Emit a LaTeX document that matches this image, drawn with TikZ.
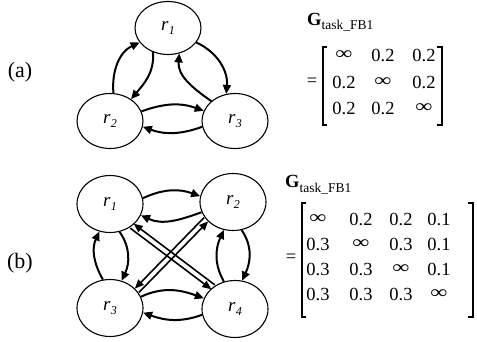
\documentclass[tikz,border=0pt]{standalone}
\usepackage{fontspec}
\setmainfont{Liberation Serif}
\usetikzlibrary{shapes.geometric,arrows.meta,calc}
\newcommand\robotlabel[1]{r\kern0.3pt\raisebox{-4pt}{\fontsize{12}{12}\selectfont #1}}
\newcommand\gname{{\bfseries G}\raisebox{-5pt}{\fontsize{13.5}{13.5}\selectfont task\_FB1}}
\newcommand\infsym{\scalebox{1.3}[1]{∞}}
\begin{document}
\begin{tikzpicture}[x=1pt,y=1pt,
  robot/.style={ellipse,draw,line width=1.1pt,minimum width=66pt,minimum height=55pt,inner sep=0pt,font=\fontsize{19}{19}\selectfont\itshape},
  arr/.style={line width=2pt,-{Triangle[length=9pt,width=8pt]}},
  dbl/.style={line width=1.6pt,-{Triangle[length=9pt,width=7.5pt]}},
  ent/.style={font=\fontsize{18.5}{18.5}\selectfont,inner sep=0pt,anchor=center},
  lbl/.style={font=\fontsize{22}{22}\selectfont,inner sep=0pt},
  gtxt/.style={font=\fontsize{18.5}{18.5}\selectfont,inner sep=0pt,anchor=base west},
  brk/.style={line width=1.3pt}
]
\useasboundingbox (0,0) rectangle (477,341);

% ---------- (a) ----------
\node[lbl] (la) at (20,269) {(a)};
\node[robot,minimum height=53pt] (a1) at (168,313) {\robotlabel{1}};
\node[robot] (a2) at (110,220) {\robotlabel{2}};
\node[robot] (a3) at (235,220) {\robotlabel{3}};

\draw[arr] (a2.83) to[out=95,in=205] (a1.207);
\draw[arr] (a1.238) to[out=-85,in=50] (a2.46);
\draw[arr] (a1.-27) to[out=-25,in=85] (a3.108);
\draw[arr] (a3.140) to[out=145,in=-95] (a1.-66);
\draw[arr] (a2.17) to[out=20,in=160] (a3.162);
\draw[arr] (a3.190) to[out=200,in=-20] (a2.-10);

\node[gtxt] (ga) at (307,316) {\gname};
\node[ent] (eqa) at (312,259) {=};
\draw[brk] (327,294) -- (323,294) -- (323,216) -- (327,216);
\draw[brk] (437,294) -- (442,294) -- (442,216) -- (437,216);
\node[ent] (a11) at (344,286) {\infsym};
\node[ent] (a12) at (383,286) {0.2};
\node[ent] (a13) at (424,286) {0.2};
\node[ent] (a21) at (344,259) {0.2};
\node[ent] (a22) at (383,259) {\infsym};
\node[ent] (a23) at (424,259) {0.2};
\node[ent] (a31) at (344,233) {0.2};
\node[ent] (a32) at (383,233) {0.2};
\node[ent] (a33) at (424,233) {\infsym};

% ---------- (b) ----------
\node[lbl] (lb) at (20,78) {(b)};
\node[robot,minimum height=57pt] (b1) at (110,137) {\robotlabel{1}};
\node[robot,minimum height=57pt] (b2) at (233,139) {\robotlabel{2}};
\node[robot,minimum height=57pt] (b3) at (110,33) {\robotlabel{3}};
\node[robot,minimum height=57pt] (b4) at (235,32) {\robotlabel{4}};

\draw[arr] (b1.10) to[out=25,in=160] (b2.170);
\draw[arr] (b2.198) to[out=200,in=-25] (b1.-20);
\draw[arr] (b3.20) to[out=25,in=160] (b4.161);
\draw[arr] (b4.190) to[out=200,in=-20] (b3.-8);
\draw[arr] (b1.-71) to[out=-55,in=65] (b3.67);
\draw[arr] (b3.104) to[out=120,in=-115] (b1.249);
\draw[arr] (b4.112) to[out=120,in=-115] (b2.252);
\draw[arr] (b2.-73) to[out=-55,in=65] (b4.76);

\coordinate (p14) at (b1.-45);
\coordinate (p41) at (b4.135);
\coordinate (p32) at (b3.33);
\coordinate (p23) at (b2.213);
\draw[dbl] ($(p14)!2.8pt!-90:(p41)$) -- ($(p41)!2.8pt!90:(p14)$);
\draw[dbl] ($(p41)!2.8pt!-90:(p14)$) -- ($(p14)!2.8pt!90:(p41)$);
\draw[dbl] ($(p32)!2.8pt!-90:(p23)$) -- ($(p23)!2.8pt!90:(p32)$);
\draw[dbl] ($(p23)!2.8pt!-90:(p32)$) -- ($(p32)!2.8pt!90:(p23)$);

\node[gtxt] (gb) at (285,154) {\gname};
\node[ent] (eqb) at (291,83) {=};
\draw[brk] (306,138) -- (302,138) -- (302,24) -- (306,24);
\draw[brk] (468,138) -- (473,138) -- (473,24) -- (468,24);
\node[ent] (b11) at (318,122) {\infsym};
\node[ent] (b12) at (361,122) {0.2};
\node[ent] (b13) at (401,122) {0.2};
\node[ent] (b14) at (439,122) {0.1};
\node[ent] (b21) at (318,97) {0.3};
\node[ent] (b22) at (361,97) {\infsym};
\node[ent] (b23) at (401,97) {0.3};
\node[ent] (b24) at (439,97) {0.1};
\node[ent] (b31) at (318,72) {0.3};
\node[ent] (b32) at (361,72) {0.3};
\node[ent] (b33) at (401,72) {\infsym};
\node[ent] (b34) at (439,72) {0.1};
\node[ent] (b41) at (318,47) {0.3};
\node[ent] (b42) at (361,47) {0.3};
\node[ent] (b43) at (401,47) {0.3};
\node[ent] (b44) at (439,47) {\infsym};
\end{tikzpicture}
\end{document}
